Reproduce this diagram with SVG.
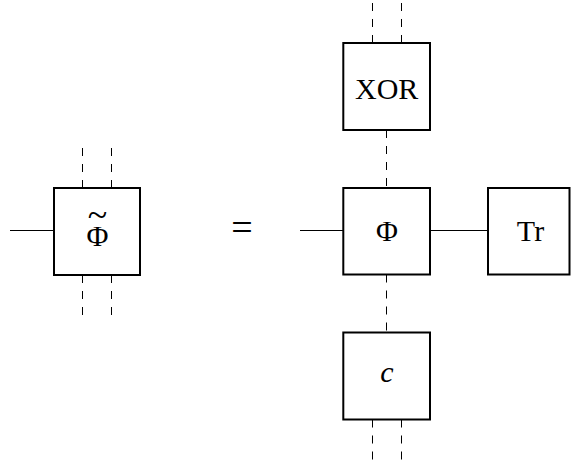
<svg xmlns="http://www.w3.org/2000/svg" width="571" height="462" viewBox="0 0 571 462">
  <style>
    .box { fill: #fff; stroke: #000; stroke-width: 2; }
    .wire { fill: none; stroke: #000; stroke-width: 1; }
    .dash { fill: none; stroke: #000; stroke-width: 1; stroke-dasharray: 8 8; }
    .lbl { font-family: "Liberation Serif", "DejaVu Serif", serif; font-size: 30px; fill: #000; text-anchor: middle; }
  </style>
  <rect width="571" height="462" fill="#fff"/>

  <!-- connectors -->
  <g id="connectors">
    <!-- left side: Phi-tilde legs -->
    <line class="wire" x1="10" y1="230.5" x2="54" y2="230.5"/>
    <line class="dash" x1="82.5" y1="188" x2="82.5" y2="148"/>
    <line class="dash" x1="111.5" y1="188" x2="111.5" y2="148"/>
    <line class="dash" x1="82.5" y1="275" x2="82.5" y2="315"/>
    <line class="dash" x1="111.5" y1="275" x2="111.5" y2="315"/>
    <!-- right side -->
    <line class="dash" x1="372.5" y1="43" x2="372.5" y2="0"/>
    <line class="dash" x1="401.5" y1="43" x2="401.5" y2="0"/>
    <line class="dash" x1="386.5" y1="130" x2="386.5" y2="188"/>
    <line class="wire" x1="300" y1="230.5" x2="343" y2="230.5"/>
    <line class="wire" x1="430" y1="230.5" x2="488" y2="230.5"/>
    <line class="dash" x1="386.5" y1="274.5" x2="386.5" y2="332.5"/>
    <line class="dash" x1="372.5" y1="419.5" x2="372.5" y2="462"/>
    <line class="dash" x1="401.5" y1="419.5" x2="401.5" y2="462"/>
  </g>

  <g id="phi-tilde">
    <rect class="box" x="54" y="188" width="86" height="87"/>
    <!-- wide tilde accent set above the Phi, kept in one text run -->
    <text class="lbl"><tspan x="97.5" y="227" style="font-size:36px">~</tspan><tspan x="97.5" y="245.5">Φ</tspan></text>
  </g>

  <g id="equals">
    <text class="lbl" x="242" y="240" style="font-size:38px">=</text>
  </g>

  <g id="xor">
    <rect class="box" x="343.3" y="43" width="86.7" height="87"/>
    <text class="lbl" x="386.7" y="98.5">XOR</text>
  </g>

  <g id="phi">
    <rect class="box" x="343.3" y="188" width="86.7" height="86.5"/>
    <text class="lbl" x="387" y="241">Φ</text>
  </g>

  <g id="trace">
    <rect class="box" x="488" y="188" width="81.5" height="86.5"/>
    <text class="lbl" x="530.5" y="240.5">Tr</text>
  </g>

  <g id="c">
    <rect class="box" x="343.3" y="332.5" width="86.7" height="87"/>
    <text class="lbl" x="387" y="382" style="font-style:italic">c</text>
  </g>
</svg>
